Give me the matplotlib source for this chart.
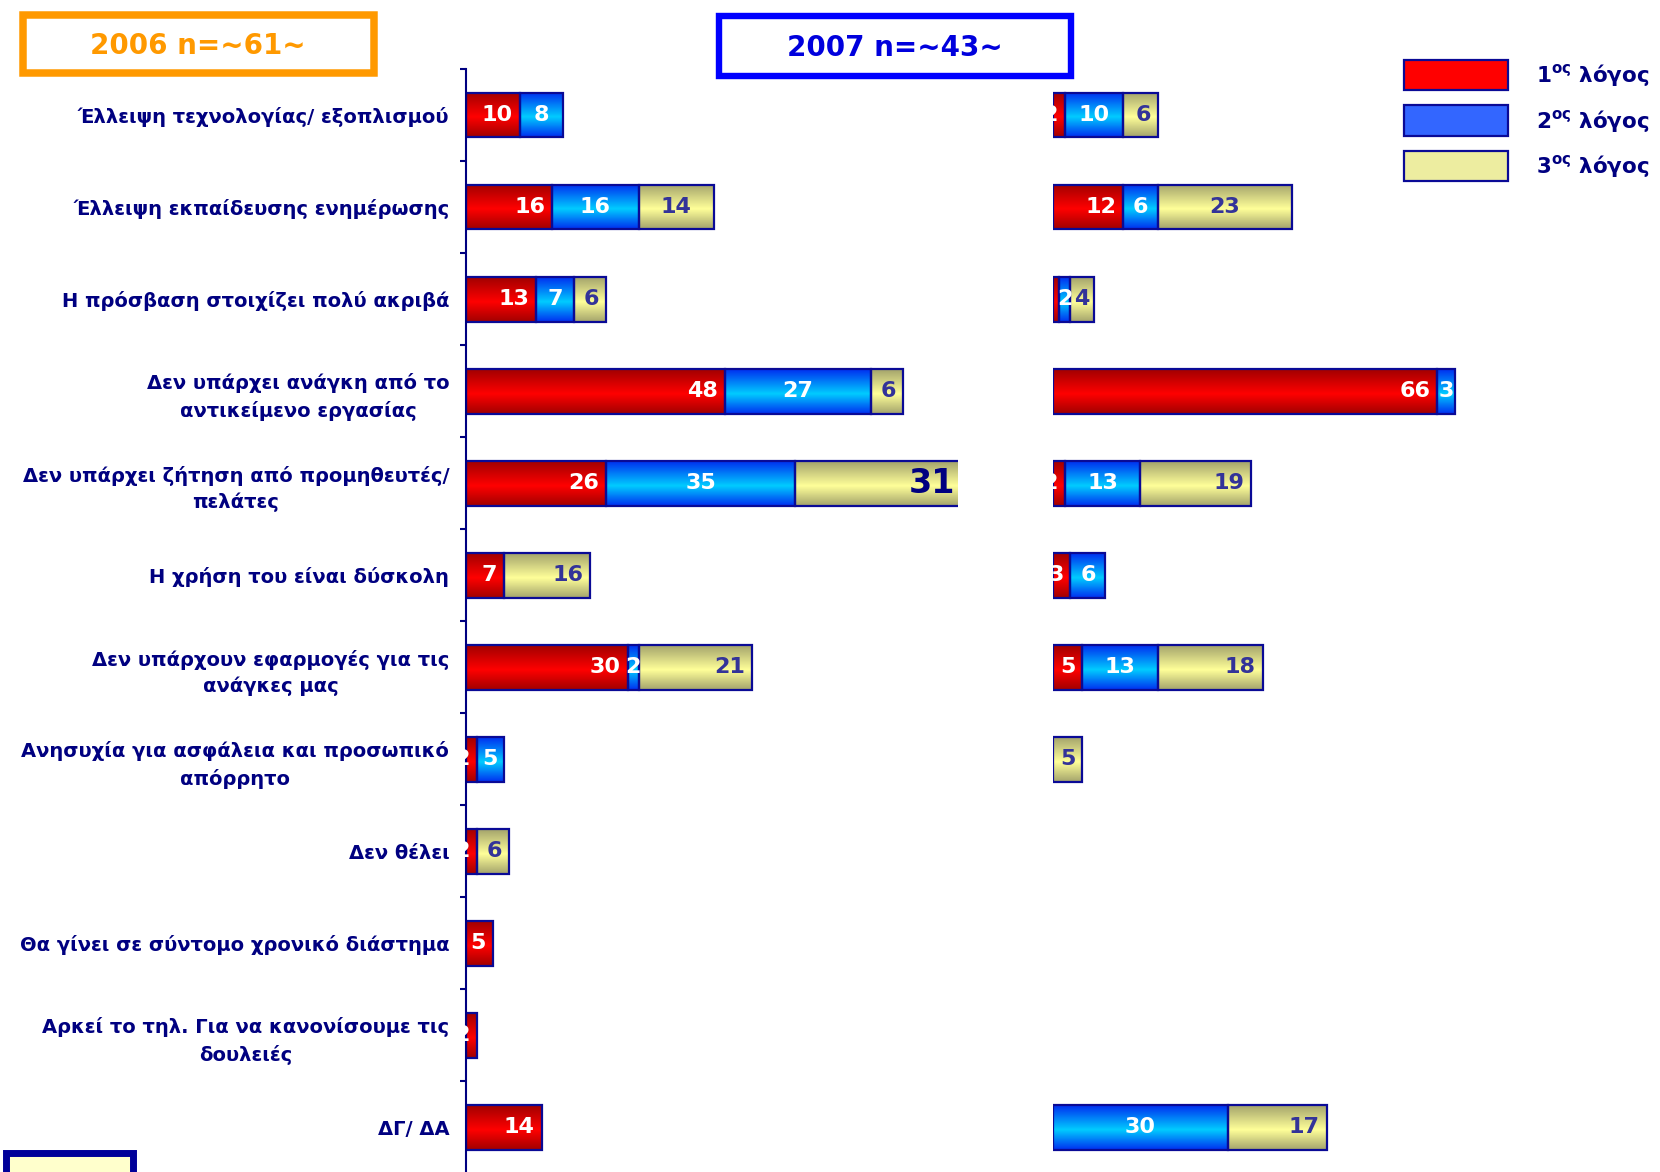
import numpy as np
import matplotlib
matplotlib.use("Agg")
import matplotlib.pyplot as plt
from matplotlib.colors import LinearSegmentedColormap
from matplotlib.patches import Rectangle

# Data (top to bottom)
categories = [
    "Έλλειψη τεχνολογίας/ εξοπλισμού",
    "Έλλειψη εκπαίδευσης ενημέρωσης",
    "Η πρόσβαση στοιχίζει πολύ ακριβά",
    "Δεν υπάρχει ανάγκη από το\nαντικείμενο εργασίας",
    "Δεν υπάρχει ζήτηση από προμηθευτές/\nπελάτες",
    "Η χρήση του είναι δύσκολη",
    "Δεν υπάρχουν εφαρμογές για τις\nανάγκες μας",
    "Ανησυχία για ασφάλεια και προσωπικό\nαπόρρητο",
    "Δεν θέλει",
    "Θα γίνει σε σύντομο χρονικό διάστημα",
    "Αρκεί το τηλ. Για να κανονίσουμε τις\nδουλειές",
    "ΔΓ/ ΔΑ",
]
first_2006 = [10, 16, 13, 48, 26, 7, 30, 2, 2, 5, 2, 14]
second_2006 = [8, 16, 7, 27, 35, 0, 2, 5, 0, 0, 0, 0]
third_2006 = [0, 14, 6, 6, 31, 16, 21, 0, 6, 0, 0, 0]
first_2007 = [2, 12, 1, 66, 2, 3, 5, 0, 0, 0, 0, 0]
second_2007 = [10, 6, 2, 3, 13, 6, 13, 0, 0, 0, 0, 30]
third_2007 = [6, 23, 4, 0, 19, 0, 18, 5, 0, 0, 0, 17]
legend_labels = ["1$^{\\mathbf{ος}}$ λόγος", "2$^{\\mathbf{ος}}$ λόγος", "3$^{\\mathbf{ος}}$ λόγος"]
legend_colors = ["#FF0000", "#3366FF", "#EDEDA0"]

NAVY = "#000080"
EDGE = "#0A0A96"
W, H = 1660, 1172

plt.rcParams["font.family"] = ["DejaVu Sans"]
plt.rcParams["font.weight"] = "bold"
plt.rcParams["mathtext.fontset"] = "dejavusans"


def fx(px):
    return px / W


def fy(py):
    return 1 - py / H


# dark edge colour, bright middle colour, label colour, label placement
seg_styles = [
    ("#A20000", "#FF0000", "white", "end"),
    ("#0030F0", "#00CCFF", "white", "center"),
    ("#A4A46C", "#FFFF99", "#333399", "end"),
]
grad = np.linspace(0, 1, 64).reshape(-1, 1)
bar_h = 0.48


def draw_year(ax, series, centered=(), big=()):
    y = np.arange(len(categories))
    left = np.zeros(len(categories))
    for s, vals in enumerate(series):
        dark, light, tcol, align = seg_styles[s]
        cmap = LinearSegmentedColormap.from_list(
            "g%d" % s, [(0, dark), (0.55, light), (1, dark)])
        vals = np.array(vals, dtype=float)
        idx = np.nonzero(vals)[0]
        for i in idx:
            ax.imshow(grad, cmap=cmap, aspect="auto", interpolation="bilinear",
                      extent=[left[i], left[i] + vals[i], y[i] + bar_h / 2, y[i] - bar_h / 2],
                      zorder=1)
        ax.barh(y[idx], vals[idx], left=left[idx], height=bar_h, color="none",
                edgecolor=EDGE, linewidth=1.6, zorder=2)
        for i in idx:
            size, col = 16, tcol
            if (s, i) in big:
                size, col = 24, NAVY
            if align == "end" and (s, i) not in centered:
                xy, off, ha = (left[i] + vals[i], y[i]), (-5, 0), "right"
            else:
                xy, off, ha = (left[i] + vals[i] / 2, y[i]), (0, 0), "center"
            ax.annotate("%d" % vals[i], xy, xytext=off, textcoords="offset points",
                        ha=ha, va="center", color=col, fontsize=size,
                        fontweight="bold", annotation_clip=False, zorder=3)
        left += vals


fig = plt.figure(figsize=(16.6, 11.72), dpi=100)

ax_top, ax_bot = fy(69.4), fy(1173.5)
ax06 = fig.add_axes([fx(466), ax_bot, fx(958 - 466), ax_top - ax_bot])
ax07 = fig.add_axes([fx(1053), ax_bot, fx(582), ax_top - ax_bot])

draw_year(ax06, [first_2006, second_2006, third_2006], centered={(2, 1)}, big={(2, 4)})
draw_year(ax07, [first_2007, second_2007, third_2007], centered={(2, 1), (2, 2), (2, 7)})

ax06.set_xlim(0, 91.2)
ax06.set_ylim(len(categories) - 0.5, -0.5)
ax07.set_xlim(0, 100)
ax07.set_ylim(len(categories) - 0.5, -0.5)
ax07.axis("off")

for side in ["top", "right", "bottom"]:
    ax06.spines[side].set_visible(False)
ax06.spines["left"].set_color(NAVY)
ax06.spines["left"].set_linewidth(1.5)
ax06.xaxis.set_visible(False)
ax06.set_yticks(np.arange(-0.5, len(categories), 1))
ax06.set_yticklabels([])
ax06.set_yticks(np.arange(len(categories)), categories, minor=True)
ax06.tick_params(axis="y", which="major", length=4.5, width=1.5, color=NAVY, direction="out")
ax06.tick_params(axis="y", which="minor", length=0, pad=12, labelsize=14, labelcolor=NAVY)
for lab in ax06.get_yticklabels(minor=True):
    lab.set_multialignment("center")
    lab.set_fontweight("bold")
    lab.set_linespacing(1.45)

# year boxes
fig.patches.append(Rectangle((fx(22.75), fy(73.25)), (374.25 - 22.75) / W, (73.25 - 14.75) / H,
                             transform=fig.transFigure, fill=False, edgecolor="#FF9900", linewidth=5.4))
fig.text(fx(198), fy(45.5), "2006 n=~61~", color="#FF9900", fontsize=20,
         fontweight="bold", ha="center", va="center")
fig.patches.append(Rectangle((fx(719.2), fy(75.8)), (1070.8 - 719.2) / W, (75.8 - 16.2) / H,
                             transform=fig.transFigure, fill=False, edgecolor="#0000FF", linewidth=4.6))
fig.text(fx(894.6), fy(47.6), "2007 n=~43~", color="#0000DD", fontsize=20,
         fontweight="bold", ha="center", va="center")

# partial box at bottom left
fig.patches.append(Rectangle((fx(5.5), fy(1185)), (132.5 - 5.5) / W, (1185 - 1152.5) / H,
                             transform=fig.transFigure, facecolor="#FFFFCC", edgecolor="#000099",
                             linewidth=5))

# legend
for k, (lab, col) in enumerate(zip(legend_labels, legend_colors)):
    top = 60 + k * 45.5
    fig.patches.append(Rectangle((fx(1404), fy(top + 30)), 104 / W, 30 / H,
                                 transform=fig.transFigure, facecolor=col,
                                 edgecolor=EDGE, linewidth=1.6))
    fig.text(fx(1536), fy(top + 22), lab, color=NAVY, fontsize=15.5,
             fontweight="bold", ha="left", va="baseline")

fig.savefig("out.png", dpi=100)
